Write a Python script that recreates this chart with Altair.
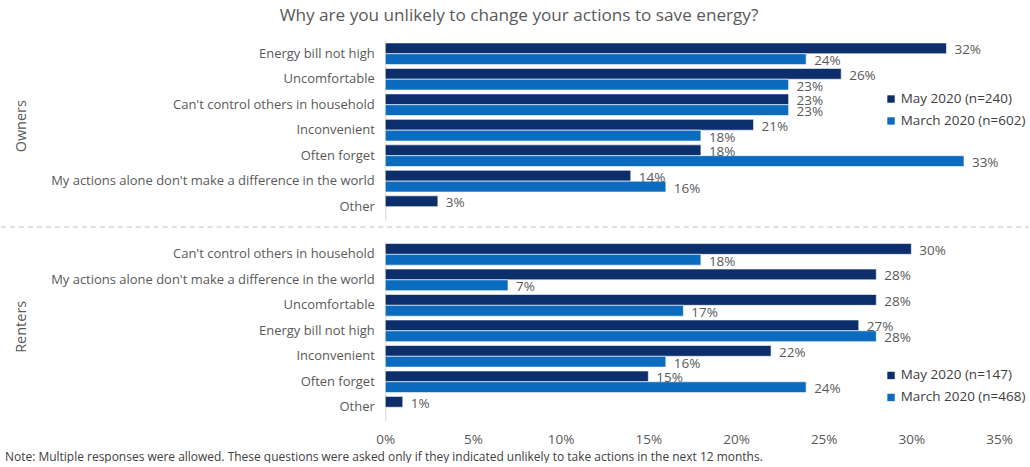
import altair as alt
import pandas as pd

# Survey answers: share of respondents unlikely to change their actions
owner_reasons = [
    "Energy bill not high",
    "Uncomfortable",
    "Can't control others in household",
    "Inconvenient",
    "Often forget",
    "My actions alone don't make a difference in the world",
    "Other",
]
owner_may = [32, 26, 23, 21, 18, 14, 3]
owner_march = [24, 23, 23, 18, 33, 16, None]

renter_reasons = [
    "Can't control others in household",
    "My actions alone don't make a difference in the world",
    "Uncomfortable",
    "Energy bill not high",
    "Inconvenient",
    "Often forget",
    "Other",
]
renter_may = [30, 28, 28, 27, 22, 15, 1]
renter_march = [18, 7, 17, 28, 16, 24, None]

owner_series = ["May 2020 (n=240)", "March 2020 (n=602)"]
renter_series = ["May 2020 (n=147)", "March 2020 (n=468)"]

x_ticks = [0, 5, 10, 15, 20, 25, 30, 35]

DARK = "#0c2f6b"
LIGHT = "#0b6cbf"
GREY = "#595959"
FONT = "Open Sans"

PLOT_W = 615
PLOT_H = 180


def build_frame(reasons, may, march, series):
    rows = []
    for r, m, mar in zip(reasons, may, march):
        rows.append({"reason": r, "series": series[0], "order": 0, "value": m})
        if mar is not None:
            rows.append({"reason": r, "series": series[1], "order": 1, "value": mar})
    df = pd.DataFrame(rows)
    df["lbl"] = df["value"].astype(int).astype(str) + "%"
    return df


def panel(reasons, may, march, series, group_title, legend_y, show_x):
    df = build_frame(reasons, may, march, series)
    y = alt.Y(
        "reason:N",
        sort=reasons,
        title=None,
        scale=alt.Scale(paddingInner=0.15, paddingOuter=0.1),
        axis=alt.Axis(
            ticks=False,
            labelPadding=11,
            labelFontSize=13,
            labelColor=GREY,
            labelFont=FONT,
            labelLimit=400,
            domainColor="#d9d9d9",
            domainWidth=1,
        ),
    )
    if show_x:
        x_axis = alt.Axis(
            values=x_ticks,
            labelExpr="datum.value + '%'",
            labelFlush=False,
            ticks=False,
            domain=False,
            grid=False,
            labelPadding=12,
            labelFontSize=13.5,
            labelColor=GREY,
            labelFont=FONT,
            title=None,
        )
    else:
        x_axis = None
    x = alt.X(
        "value:Q",
        scale=alt.Scale(domain=[0, 35], nice=False),
        axis=x_axis,
        title=None,
    )
    color = alt.Color(
        "series:N",
        sort=series,
        scale=alt.Scale(domain=series, range=[DARK, LIGHT]),
        legend=alt.Legend(
            title=None,
            orient="none",
            legendX=500,
            legendY=legend_y,
            symbolType="square",
            symbolSize=55,
            symbolStrokeWidth=0,
            labelFontSize=13.5,
            labelColor="#404040",
            labelFont=FONT,
            rowPadding=7,
            labelOffset=3,
        ),
    )
    bars = alt.Chart(df).mark_bar(stroke="white", strokeWidth=0.6).encode(
        y=y,
        x=x,
        yOffset=alt.YOffset("order:O", scale=alt.Scale(paddingInner=0, paddingOuter=0)),
        color=color,
    )
    labels = alt.Chart(df).mark_text(
        align="left", baseline="middle", dx=8, dy=2, fontSize=13.5, color=GREY, font=FONT
    ).encode(
        y=alt.Y("reason:N", sort=reasons),
        x="value:Q",
        yOffset="order:O",
        text="lbl:N",
    )
    side = alt.Chart(pd.DataFrame({"t": [group_title]})).mark_text(
        angle=270, fontSize=14.5, color=GREY, font=FONT, baseline="middle", align="center"
    ).encode(x=alt.value(-364), y=alt.value(PLOT_H / 2 - 4), text="t:N")
    return alt.layer(bars, labels, side).properties(width=PLOT_W, height=PLOT_H)


owners = panel(owner_reasons, owner_may, owner_march, owner_series, "Owners", 52, False)
renters = panel(renter_reasons, renter_may, renter_march, renter_series, "Renters", 128, True)

title = alt.Chart(pd.DataFrame({"t": ["Why are you unlikely to change your actions to save energy?"]})).mark_text(
    fontSize=17.2, color=GREY, font=FONT, baseline="top", align="center"
).encode(x=alt.value(134), y=alt.value(-33), text="t:N")

divider = alt.Chart(pd.DataFrame({"d": [0]})).mark_rule(
    color="#bfbfbf", strokeDash=[5, 4], strokeWidth=1
).encode(x=alt.value(-385), x2=alt.value(645), y=alt.value(PLOT_H + 7))

note = alt.Chart(pd.DataFrame({"t": [
    "Note: Multiple responses were allowed. These questions were asked only if they indicated unlikely to take actions in the next 12 months."
]})).mark_text(fontSize=12, color="#404040", font=FONT, baseline="middle", align="left").encode(
    x=alt.value(-381), y=alt.value(PLOT_H + 36), text="t:N"
)

chart = alt.vconcat(
    alt.layer(owners, title, divider),
    alt.layer(renters, note),
    spacing=13,
).resolve_scale(color="independent").properties(
    padding={"left": 0, "top": 7, "right": 0, "bottom": 0},
    background="white",
).configure_view(stroke=None)

chart.save("out.html", embed_options={"renderer": "svg", "actions": False})
